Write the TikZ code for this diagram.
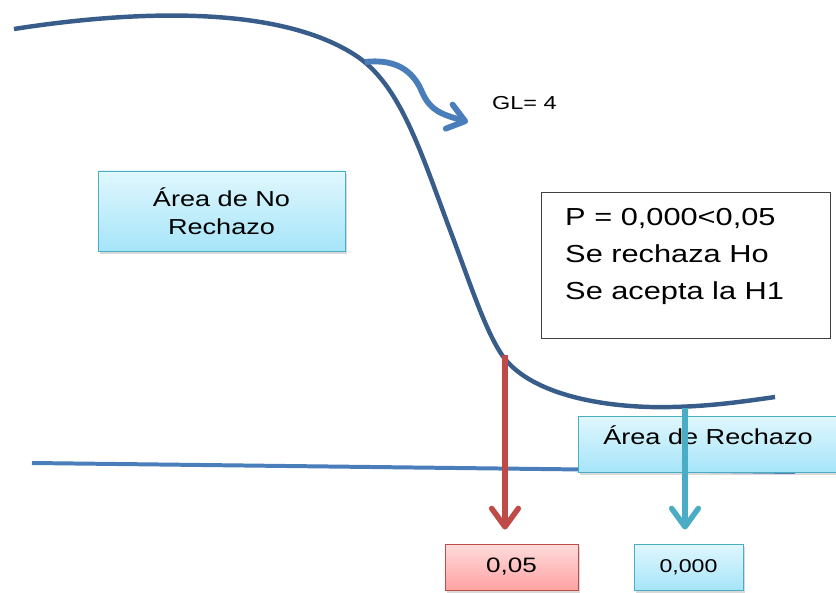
\documentclass[tikz,border=0pt]{standalone}
\usepackage{fontspec}
\setmainfont{Liberation Sans}[FakeStretch=1.25]
\usetikzlibrary{arrows.meta,shadows}

\definecolor{curveblue}{RGB}{56,93,138}
\definecolor{lineblue}{RGB}{74,126,187}
\definecolor{rejred}{RGB}{190,75,72}
\definecolor{rejcyan}{RGB}{75,172,198}
\definecolor{cyantop}{RGB}{224,247,253}
\definecolor{cyanbot}{RGB}{166,229,249}
\definecolor{redtop}{RGB}{255,220,220}
\definecolor{redbot}{RGB}{255,162,162}

\begin{document}
\begin{tikzpicture}[x=0.03cm,y=-0.03cm,
    boxshadow/.style={drop shadow={shadow xshift=0.06cm,shadow yshift=-0.08cm,opacity=0.3}},
    cyanbox/.style={draw=rejcyan,line width=0.8pt,top color=cyantop,bottom color=cyanbot,
        boxshadow,align=center,inner sep=0pt},
    redbox/.style={draw=rejred,line width=0.8pt,top color=redtop,bottom color=redbot,
        boxshadow,align=center,inner sep=0pt},
    dropline/.style={line width=4.7pt,shorten >=0.42cm,
        -{Straight Barb[length=0.55cm,width=0.8cm,round]}}]
    \useasboundingbox (0,0) rectangle (836,593);
    % density curve and axis
    \draw[line width=3.8pt,curveblue] (14,29) .. controls (110,14) and (270,0) .. (355,55)
        .. controls (400,84) and (420,150) .. (450,230)
        .. controls (470,283) and (485,330) .. (502,355)
        .. controls (524,387) and (580,405) .. (650,407)
        .. controls (700,408) and (740,402) .. (775,397);
    \draw[line width=3.4pt,lineblue] (32,463) -- (795,472);
    \coordinate (cutA) at (505,355);
    \coordinate (cutB) at (685,408);
    % degrees of freedom
    \node[anchor=west,inner sep=0pt,font=\fontsize{16}{19}\selectfont] (gl) at (492,103) {GL= 4};
    \coordinate (glstart) at (365,62);
    \coordinate (gltip) at (468,122);
    \draw[line width=5pt,lineblue,-{Straight Barb[length=0.5cm,width=0.75cm,round]}] (glstart)
        .. controls (400,58) and (415,75) .. (422,92)
        .. controls (430,110) and (440,114) .. (gltip);
    % regions
    \node[cyanbox,minimum width=7.41cm,minimum height=2.4cm,font=\fontsize{18.5}{24}\selectfont]
        (noreject) at (221.5,211) {Área de No\\Rechazo};
    \node[draw=black!75,line width=0.8pt,fill=white,minimum width=8.67cm,minimum height=4.38cm]
        (pbox) at (685.5,265) {};
    \node[anchor=north west,inner sep=0pt,align=left,font=\fontsize{21}{31.5}\selectfont]
        (ptext) at (565,208) {P = 0,000<0,05\\Se rechaza Ho\\Se acepta la H1};
    \node[cyanbox,minimum width=7.8cm,minimum height=1.68cm,text depth=15pt,
        font=\fontsize{18.5}{24}\selectfont] (reject) at (708,444) {Área de Rechazo};
    % values
    \node[redbox,minimum width=3.99cm,minimum height=1.38cm,font=\fontsize{17.8}{20}\selectfont]
        (p05) at (511.5,567) {0,05};
    \node[cyanbox,minimum width=3.27cm,minimum height=1.38cm,font=\fontsize{15.8}{20}\selectfont]
        (p000) at (688.5,567) {0,000};
    \draw[dropline,rejred] (cutA) -- (cutA |- p05.north);
    \draw[dropline,rejcyan] (cutB) -- (cutB |- p000.north);
\end{tikzpicture}
\end{document}
